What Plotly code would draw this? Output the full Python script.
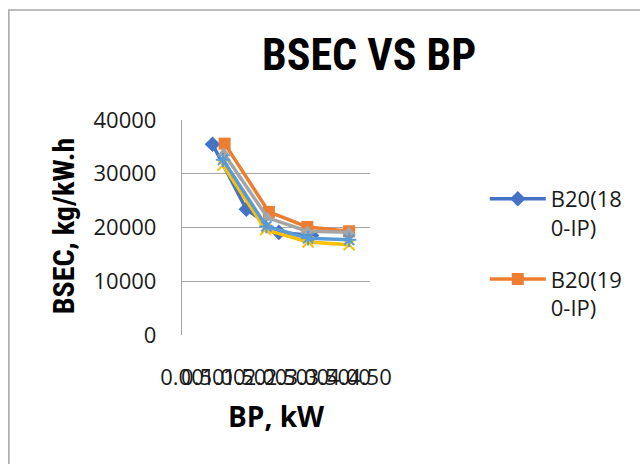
import plotly.graph_objects as go

# Data
names = ["B20(18<br>0-IP)", "B20(19<br>0-IP)", "Series3", "Series4", "Series5"]
bp_blue = [0.73, 1.54, 2.32, 3.1]
bp_orange = [1.02, 2.08, 3.0, 4.0]
bp_gray = [1.0, 2.05, 3.0, 4.0]
bp_yellow = [0.98, 2.0, 3.02, 4.0]
bp_lblue = [0.98, 2.02, 3.02, 4.0]
bsec_blue = [35500, 23400, 19100, 18500]
bsec_orange = [35600, 22900, 20100, 19300]
bsec_gray = [33800, 21800, 19300, 19100]
bsec_yellow = [31600, 19600, 17300, 16800]
bsec_lblue = [32600, 20200, 18000, 17700]
x_tickvals = [0, 0.5, 1.0, 1.5, 2.0, 2.5, 3.0, 3.5, 4.0, 4.5]
x_ticktext = ["%.2f" % v for v in x_tickvals]
y_tickvals = [0, 10000, 20000, 30000, 40000]

colors = ["#4472C4", "#ED7D31", "#A5A5A5", "#FFC000", "#5B9BD5"]
symbols = ["diamond", "square", "triangle-up", "x", "asterisk-open"]
xs = [bp_blue, bp_orange, bp_gray, bp_yellow, bp_lblue]
ys = [bsec_blue, bsec_orange, bsec_gray, bsec_yellow, bsec_lblue]

fig = go.Figure()
for i in range(5):
    mk = dict(symbol=symbols[i], size=12, color=colors[i])
    if symbols[i] == "asterisk-open":
        mk = dict(symbol=symbols[i], size=12, color=colors[i], line=dict(color=colors[i], width=2))
    elif symbols[i] == "x":
        mk = dict(symbol="x-thin-open", size=11, color=colors[i], line=dict(color=colors[i], width=2))
    fig.add_trace(go.Scatter(
        x=xs[i], y=ys[i], name=names[i], mode="lines+markers",
        line=dict(color=colors[i], width=3.5), marker=mk,
        showlegend=(i < 2), legendgroup="g%d" % i,
    ))

L, R, T, B = 182, 268, 120, 129
W, H = 640, 464
pw, ph = W - L - R, H - T - B

def px(xp):
    return (xp - L) / pw

def py(yp):
    return (H - B - yp) / ph

narrow = "Liberation Sans Narrow, Roboto Condensed, DejaVu Sans Condensed, Liberation Sans"

fig.update_layout(
    width=W, height=H,
    margin=dict(l=L, r=R, t=T, b=B),
    paper_bgcolor="white", plot_bgcolor="white",
    font=dict(family="Open Sans, Noto Sans, sans-serif", size=22, color="#1a1a1a"),
    showlegend=True,
    legend=dict(x=px(488), y=py(178), xanchor="left", yanchor="top",
                font=dict(size=22, color="#1a1a1a"), valign="top",
                itemwidth=56, tracegroupgap=20, bgcolor="rgba(0,0,0,0)"),
    xaxis=dict(range=[0, 4.5], tickmode="array", tickvals=x_tickvals, ticktext=x_ticktext,
               tickangle=0, showgrid=False, zeroline=False, showline=False,
               ticks="", ticklabelstandoff=27, tickfont=dict(size=22, color="#1a1a1a")),
    yaxis=dict(range=[0, 40000], tickmode="array", tickvals=y_tickvals,
               ticktext=[str(v) for v in y_tickvals],
               showgrid=True, gridcolor="#a6a6a6", gridwidth=1.3, zeroline=False,
               showline=True, linecolor="#a6a6a6", linewidth=1.3,
               ticks="", ticklabelstandoff=20, tickfont=dict(size=22, color="#1a1a1a")),
    annotations=[
        dict(text="<b>BSEC VS BP</b>", x=px(371), y=py(55), xref="paper", yref="paper",
             showarrow=False, xanchor="center", yanchor="middle",
             font=dict(family=narrow, size=44, color="black")),
        dict(text="<b>BSEC, kg/kW.h</b>", x=px(62), y=py(226), xref="paper", yref="paper",
             showarrow=False, xanchor="center", yanchor="middle", textangle=-90,
             font=dict(family=narrow, size=30, color="black")),
        dict(text="<b>BP, kW</b>", x=px(277), y=py(416), xref="paper", yref="paper",
             showarrow=False, xanchor="center", yanchor="middle",
             font=dict(family="Open Sans, sans-serif", size=28, color="black")),
    ],
    shapes=[
        dict(type="rect", xref="paper", yref="paper", x0=px(7), x1=px(700), y0=py(520), y1=py(10),
             line=dict(color="#a6a6a6", width=1.5), fillcolor="rgba(0,0,0,0)", layer="below"),
    ],
)

fig.write_html("out.html")
